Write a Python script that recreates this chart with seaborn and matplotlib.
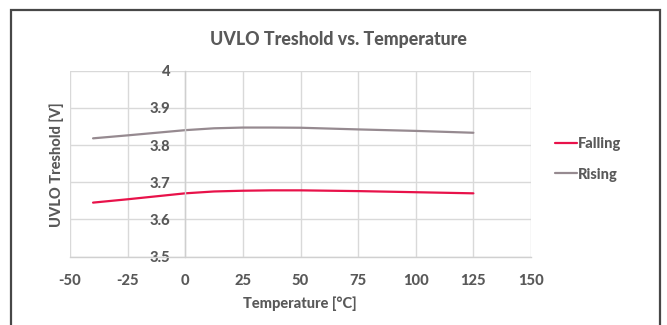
import matplotlib
matplotlib.use("Agg")
import matplotlib.pyplot as plt
from matplotlib.patches import Rectangle
from matplotlib.lines import Line2D
import seaborn as sns
import pandas as pd

# ---- data ----
temperature = [-40, -25, -12.5, 0, 12.5, 25, 37.5, 50, 75, 100, 125]
falling = [3.645, 3.654, 3.662, 3.670, 3.675, 3.677, 3.678, 3.678, 3.676, 3.673, 3.670]
rising = [3.818, 3.826, 3.833, 3.840, 3.845, 3.847, 3.847, 3.8465, 3.842, 3.838, 3.833]
series_names = ["Falling", "Rising"]
x_ticks = [-50, -25, 0, 25, 50, 75, 100, 125, 150]
y_ticks = [3.5, 3.6, 3.7, 3.8, 3.9, 4.0]
y_tick_labels = ["3.5", "3.6", "3.7", "3.8", "3.9", "4"]
title = "UVLO Treshold vs. Temperature"
x_label = "Temperature [°C]"
y_label = "UVLO Treshold [V]"

df = pd.DataFrame({
    "Temperature": temperature * 2,
    "Value": falling + rising,
    "Series": [series_names[0]] * len(temperature) + [series_names[1]] * len(temperature),
})

sns.set_theme(style="white")
plt.rcParams["font.family"] = ["Lato", "DejaVu Sans"]

TXT = "#595959"
GRID = "#D9D9D9"
BOLD = 900
palette = {"Falling": "#E8124A", "Rising": "#968A90"}

W, H = 667, 325
fig = plt.figure(figsize=(W / 100, H / 100), dpi=100)
ax = fig.add_axes([70 / W, 1 - 256.5 / H, (531 - 70) / W, (256.5 - 70.7) / H])

sns.lineplot(data=df, x="Temperature", y="Value", hue="Series", palette=palette,
             estimator=None, sort=True, linewidth=1.6, ax=ax, legend=False)

ax.set_xlim(-50, 150)
ax.set_ylim(3.5, 4.0)
ax.set_xticks(x_ticks)
ax.set_xticklabels([str(t) for t in x_ticks])
ax.set_yticks(y_ticks)
ax.set_yticklabels(y_tick_labels)

ax.grid(True, color=GRID, linewidth=1.0)
for s in ["top", "right"]:
    ax.spines[s].set_visible(False)
ax.spines["left"].set_position(("data", 0))
ax.spines["left"].set_color("#CFCFCF")
ax.spines["left"].set_linewidth(1.0)
ax.spines["bottom"].set_color("#D0D0D0")
ax.spines["bottom"].set_linewidth(1.0)

ax.tick_params(axis="x", length=0, pad=12.5, labelsize=10.6, labelcolor=TXT)
ax.tick_params(axis="y", length=0, pad=10.5, labelsize=10.6, labelcolor=TXT)
for lab in ax.get_xticklabels() + ax.get_yticklabels():
    lab.set_fontweight(BOLD)

ax.set_xlabel(x_label, fontsize=10.5, fontweight=BOLD, color=TXT)
ax.set_ylabel(y_label, fontsize=10.5, fontweight=BOLD, color=TXT)
ax.xaxis.label.set_va("center")
ax.yaxis.label.set_va("center")
ax.xaxis.set_label_coords((300 - 70) / 461, (256.5 - 303.3) / 185.8)
ax.yaxis.set_label_coords((56.7 - 70) / 461, (256.5 - 165) / 185.8)

fig.text(338 / W, 1 - 40 / H, title, ha="center", va="center",
         fontsize=12.8, fontweight=BOLD, color=TXT)

# legend
handles = [Line2D([0], [0], color=palette[n], linewidth=1.6) for n in series_names]
leg = fig.legend(handles, series_names, loc="center left",
                 bbox_to_anchor=(555 / W, 1 - 159.5 / H), frameon=False,
                 borderpad=0, borderaxespad=0, handlelength=1.5,
                 handletextpad=0.1, labelspacing=1.1,
                 prop={"size": 10.5, "weight": BOLD})
for t in leg.get_texts():
    t.set_color(TXT)

# outer chart frame
fig.patches.append(Rectangle((10.5 / W, -0.2), (660 - 10.5) / W, 1.2 - 10 / H,
                             transform=fig.transFigure, fill=False,
                             edgecolor="#474747", linewidth=1.6))

fig.savefig("out.png", dpi=100)
